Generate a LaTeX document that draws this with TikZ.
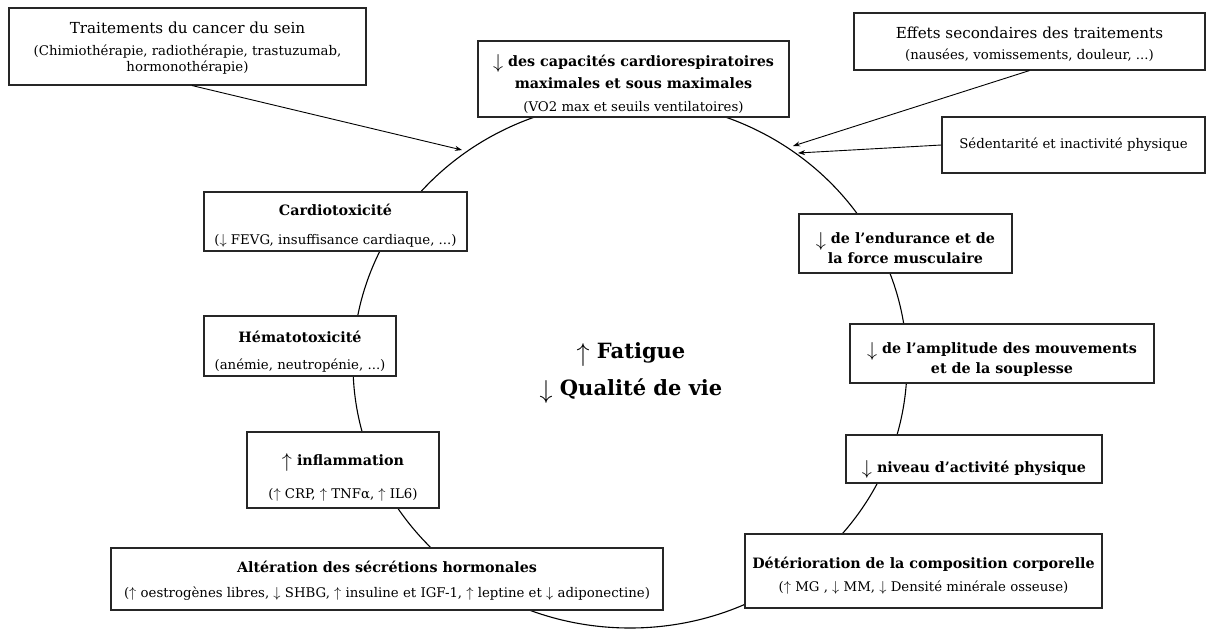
\documentclass[tikz,border=0pt]{standalone}
\usepackage{fontspec}
\usepackage{graphicx}
\usetikzlibrary{arrows.meta}
\setmainfont{DejaVu Serif}
\newcommand{\Tfont}{\fontsize{15.2}{18}\selectfont}
\newcommand{\Sfont}{\fontsize{13.3}{16}\selectfont}
\newcommand{\Bfont}{\bfseries\fontsize{14.3}{18}\selectfont}
\newcommand{\Cfont}{\bfseries\fontsize{21}{25}\selectfont}
\newcommand{\Dn}{\ensuremath{\downarrow}}
\newcommand{\Up}{\ensuremath{\uparrow}}
\newcommand{\BDn}{\raisebox{-2.5pt}{\scalebox{1.4}{$\downarrow$}}}
\newcommand{\BUp}{\raisebox{-2.5pt}{\scalebox{1.4}{$\uparrow$}}}
\newcommand{\CDn}{\raisebox{-3pt}{\scalebox{1.25}{$\downarrow$}}}
\newcommand{\CUp}{\raisebox{-3pt}{\scalebox{1.25}{$\uparrow$}}}
% #1 = distance between baselines, #2 = extra space on top (moves the text down by half), #3 = lines
\newcommand{\Stack}[3]{\vbox{\baselineskip=#1\relax\lineskiplimit=-100pt\lineskip=0pt\halign{\hfil##\hfil\cr\noalign{\vskip #2}#3\crcr}}}
\begin{document}
\begin{tikzpicture}[x=1pt,y=-1pt,
  box/.style={draw=black!85,fill=white,line width=1.1pt,inner sep=0pt},
  conn/.style={line width=0.9pt,-{Stealth[length=7pt,width=5pt]}}]
\useasboundingbox (0,0) rectangle (1208,630);
\fill[white] (0,0) rectangle (1208,630);
% cycle
\draw[line width=1.1pt] (630,364.5) ellipse [x radius=277, y radius=263.5];
% boxes
\node[box,minimum width=357pt,minimum height=77pt] (b1) at (187.5,46.5)
  {\Stack{16pt}{3pt}{\Tfont Traitements du cancer du sein\cr\noalign{\vskip 6pt}
   \Sfont (Chimiothérapie, radiothérapie, trastuzumab,\cr \Sfont hormonothérapie)\cr}};
\node[box,minimum width=311pt,minimum height=76pt] (top) at (633.5,79)
  {\Stack{22.5pt}{10pt}{\Bfont \BDn\ des capacités cardiorespiratoires\cr
   \Bfont maximales et sous maximales\cr \Sfont (VO2 max et seuils ventilatoires)\cr}};
\node[box,minimum width=351pt,minimum height=57pt] (eff) at (1029.5,41.5)
  {\Stack{21pt}{5pt}{\Tfont Effets secondaires des traitements\cr
   \Sfont (nausées, vomissements, douleur, ...)\cr}};
\node[box,minimum width=263pt,minimum height=56pt] (sed) at (1073.5,145)
  {\Sfont Sédentarité et inactivité physique};
\node[box,minimum width=263pt,minimum height=59pt] (cardio) at (335.5,221.5)
  {\Stack{29pt}{8pt}{\Bfont Cardiotoxicité\cr \Sfont (\Dn\ FEVG, insuffisance cardiaque, ...)\cr}};
\node[box,minimum width=213pt,minimum height=59pt] (endur) at (905.5,243.5)
  {\Stack{20pt}{9pt}{\Bfont \BDn\ de l’endurance et de\cr \Bfont la force musculaire\cr}};
\node[box,minimum width=192pt,minimum height=60pt] (hemato) at (300,346)
  {\Stack{27pt}{11pt}{\Bfont Hématotoxicité\cr \Sfont (anémie, neutropénie, ...)\cr}};
\node[box,minimum width=304pt,minimum height=59pt] (ampl) at (1002,353.5)
  {\Stack{20pt}{12pt}{\Bfont \BDn\ de l’amplitude des mouvements\cr \Bfont et de la souplesse\cr}};
\node[box,minimum width=192pt,minimum height=76pt] (inflam) at (343,470)
  {\Stack{33pt}{15pt}{\Bfont \BUp\ inflammation\cr \Sfont (\Up\ CRP, \Up\ TNFα, \Up\ IL6)\cr}};
\node[box,minimum width=256pt,minimum height=48pt] (niv) at (974,459)
  {\Bfont \rule{0pt}{33pt}\BDn\ niveau d’activité physique};
\node[box,minimum width=552pt,minimum height=62pt] (alter) at (387,579)
  {\Stack{25pt}{4pt}{\Bfont Altération des sécrétions hormonales\cr
   \Sfont (\Up\ oestrogènes libres, \Dn\ SHBG, \Up\ insuline et IGF-1, \Up\ leptine et \Dn\ adiponectine)\cr}};
\node[box,minimum width=357pt,minimum height=74pt] (deter) at (923.5,571)
  {\Stack{23pt}{10pt}{\Bfont Détérioration de la composition corporelle\cr
   \Sfont (\Up\ MG , \Dn\ MM, \Dn\ Densité minérale osseuse)\cr}};
\node[inner sep=0pt] (centre) at (631,370)
  {\Stack{37pt}{6pt}{\Cfont \CUp\ Fatigue\cr \Cfont \CDn\ Qualité de vie\cr}};
% arrows
\coordinate (t1) at (462,150);
\coordinate (t2) at (793,146);
\coordinate (t3) at (798,153);
\draw[conn] ([xshift=4.5pt]b1.south) -- (t1);
\draw[conn] (eff.south) -- (t2);
\draw[conn] (sed.west) -- (t3);
\end{tikzpicture}
\end{document}
